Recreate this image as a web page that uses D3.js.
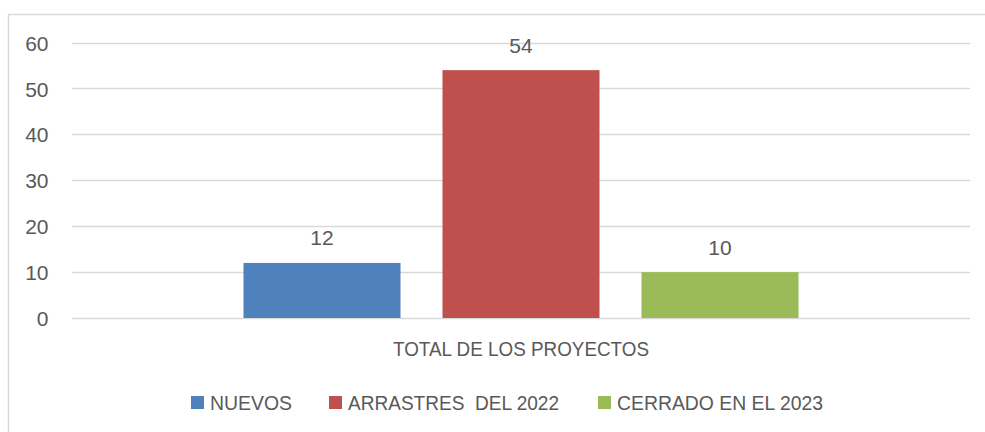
<!DOCTYPE html>
<html><head><meta charset="utf-8">
<script src="https://cdn.jsdelivr.net/npm/d3@7"></script>
<style>body{margin:0;background:#fff}svg{display:block}text{font-family:"Liberation Sans",Arial,sans-serif;fill:#595959}</style>
</head><body><svg id="c" width="985" height="432"></svg>
<script>
const categories = ["TOTAL DE LOS PROYECTOS"];
const seriesNames = ["NUEVOS", "ARRASTRES  DEL 2022", "CERRADO EN EL 2023"];
const seriesValues = [12, 54, 10];
const seriesColors = ["#4f81bd", "#c0504d", "#9bbb59"];
const yTicks = [0, 10, 20, 30, 40, 50, 60];

(function(){
const svg = d3.select("#c");
svg.append("rect").attr("x",8.5).attr("y",14.5).attr("width",990).attr("height",430)
  .attr("fill","#fff").attr("stroke","#d9d9d9").attr("stroke-width",1.5);

const mLeft = 72, mRight = 970, mTop = 42.6, mBottom = 318;
const y = d3.scaleLinear().domain([0,60]).range([mBottom, mTop]);
const x0 = d3.scaleBand().domain(categories).range([mLeft,mRight]).paddingInner(0).paddingOuter(0.309);
const x1 = d3.scaleBand().domain(seriesNames).range([0, x0.bandwidth()]).paddingInner(0.211).paddingOuter(0);

svg.append("g").selectAll("line").data(yTicks).join("line")
  .attr("x1",mLeft).attr("x2",mRight).attr("y1",d=>Math.round(y(d))+0.5).attr("y2",d=>Math.round(y(d))+0.5)
  .attr("stroke","#d9d9d9").attr("stroke-width",1.5);

const yAxis = d3.axisLeft(y).tickValues(yTicks).tickSize(0).tickPadding(0);
const ga = svg.append("g").attr("transform","translate(48.5,0)").call(yAxis);
ga.select(".domain").remove();
ga.selectAll("text").attr("font-size",21).attr("font-family","Liberation Sans, Arial, sans-serif").attr("fill","#595959").attr("dy","0.36em");

const g = svg.append("g").attr("transform",`translate(${x0(categories[0])},0)`);
g.selectAll("rect").data(seriesValues).join("rect")
  .attr("x",(d,i)=>x1(seriesNames[i])).attr("width",x1.bandwidth())
  .attr("y",d=>y(d)).attr("height",d=>y(0)-y(d)).attr("fill",(d,i)=>seriesColors[i]);
g.selectAll("text").data(seriesValues).join("text")
  .attr("x",(d,i)=>x1(seriesNames[i])+x1.bandwidth()/2).attr("y",d=>y(d)-17.5)
  .attr("text-anchor","middle").attr("font-size",21).attr("fill","#404040").text(d=>d);

svg.append("text").attr("x",x0(categories[0])+x0.bandwidth()/2).attr("y",356)
  .attr("text-anchor","middle").attr("font-size",21)
  .attr("textLength",256).attr("lengthAdjust","spacingAndGlyphs").text(categories[0]);

const legendX = [191, 329, 598];
const legendW = [82, 211, 206];
const lg = svg.append("g");
seriesNames.forEach((n,i)=>{
  lg.append("rect").attr("x",legendX[i]).attr("y",396).attr("width",13).attr("height",13).attr("fill",seriesColors[i]);
  lg.append("text").attr("x",legendX[i]+19).attr("y",409.5).attr("font-size",21)
    .attr("textLength",legendW[i]).attr("lengthAdjust","spacingAndGlyphs")
    .style("white-space","pre").text(n);
});
})();
</script></body></html>
